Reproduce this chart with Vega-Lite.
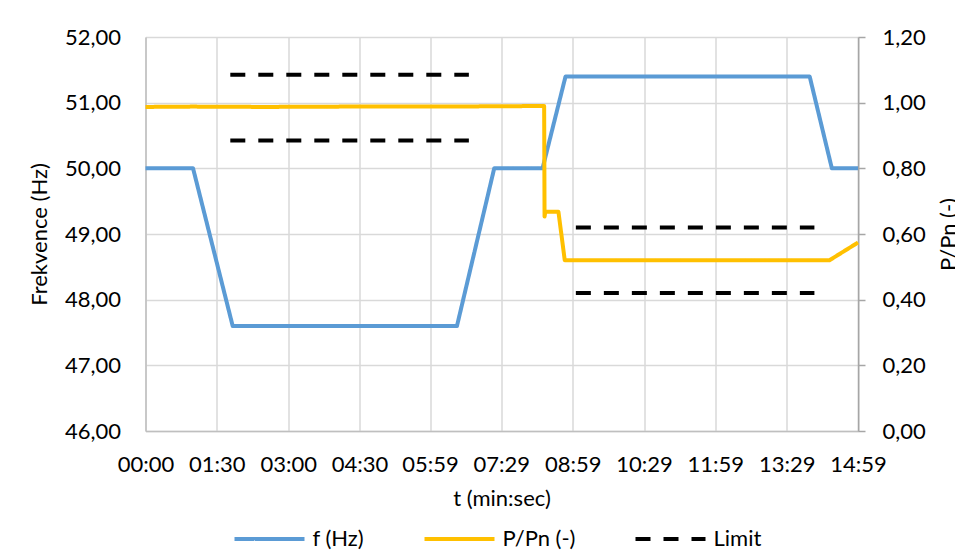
{
  "$schema": "https://vega.github.io/schema/vega-lite/v6.json",
  "width": 712.5,
  "height": 394,
  "autosize": {"type": "none"},
  "padding": {"left": 145.5, "top": 37, "right": 97, "bottom": 123},
  "background": "white",
  "config": {
    "view": {"stroke": null},
    "font": "Lato",
    "axis": {
      "labelFont": "Lato",
      "titleFont": "Lato",
      "labelFontSize": 22,
      "titleFontSize": 22,
      "labelColor": "#000000",
      "titleColor": "#000000",
      "titleFontWeight": "normal",
      "gridColor": "#d9d9d9",
      "gridWidth": 1.5
    },
    "legend": {
      "symbolType": "stroke",
      "symbolSize": 4900,
      "symbolStrokeWidth": 4,
      "labelFont": "Lato",
      "labelFontSize": 22,
      "labelColor": "#000000",
      "labelOffset": 6,
      "columnPadding": 52,
      "labelLimit": 300,
      "padding": 0
    }
  },
  "data": {
    "values": [
      {"t": 0, "v": 50, "series": "f (Hz)"},
      {"t": 60, "v": 50, "series": "f (Hz)"},
      {"t": 110, "v": 47.6, "series": "f (Hz)"},
      {"t": 393, "v": 47.6, "series": "f (Hz)"},
      {"t": 440, "v": 50, "series": "f (Hz)"},
      {"t": 501, "v": 50, "series": "f (Hz)"},
      {"t": 530, "v": 51.4, "series": "f (Hz)"},
      {"t": 838, "v": 51.4, "series": "f (Hz)"},
      {"t": 866, "v": 50, "series": "f (Hz)"},
      {"t": 899, "v": 50, "series": "f (Hz)"},
      {"t": 0, "v": 0.987, "series": "P/Pn (-)"},
      {"t": 60, "v": 0.988, "series": "P/Pn (-)"},
      {"t": 150, "v": 0.987, "series": "P/Pn (-)"},
      {"t": 250, "v": 0.988, "series": "P/Pn (-)"},
      {"t": 350, "v": 0.988, "series": "P/Pn (-)"},
      {"t": 450, "v": 0.989, "series": "P/Pn (-)"},
      {"t": 503, "v": 0.99, "series": "P/Pn (-)"},
      {"t": 503.5, "v": 0.653, "series": "P/Pn (-)"},
      {"t": 504.5, "v": 0.668, "series": "P/Pn (-)"},
      {"t": 521, "v": 0.668, "series": "P/Pn (-)"},
      {"t": 529, "v": 0.52, "series": "P/Pn (-)"},
      {"t": 700, "v": 0.52, "series": "P/Pn (-)"},
      {"t": 863, "v": 0.52, "series": "P/Pn (-)"},
      {"t": 899, "v": 0.574, "series": "P/Pn (-)"},
      {"t": 107, "v": 1.085, "series": "Limit", "seg": "A"},
      {"t": 408, "v": 1.085, "series": "Limit", "seg": "A"},
      {"t": 107, "v": 0.885, "series": "Limit", "seg": "B"},
      {"t": 408, "v": 0.885, "series": "Limit", "seg": "B"},
      {"t": 543, "v": 0.62, "series": "Limit", "seg": "C"},
      {"t": 844, "v": 0.62, "series": "Limit", "seg": "C"},
      {"t": 543, "v": 0.42, "series": "Limit", "seg": "D"},
      {"t": 844, "v": 0.42, "series": "Limit", "seg": "D"}
    ]
  },
  "encoding": {
    "x": {
      "field": "t",
      "type": "quantitative",
      "scale": {"domain": [0, 899], "nice": false, "zero": false},
      "axis": {
        "title": "t (min:sec)",
        "values": [0, 90, 180, 270, 359, 449, 539, 629, 719, 809, 899],
        "labelExpr": "utcFormat(datum.value * 1000, '%M:%S')",
        "ticks": false,
        "labelPadding": 23,
        "labelFlush": false,
        "labelOverlap": false,
        "domainColor": "#bfbfbf",
        "domainWidth": 1.5,
        "grid": true,
        "titleX": 356,
        "titleY": 67,
        "titleBaseline": "middle"
      }
    },
    "color": {
      "field": "series",
      "type": "nominal",
      "scale": {"domain": ["f (Hz)", "P/Pn (-)", "Limit"], "range": ["#5B9BD5", "#FFC000", "#000000"]},
      "legend": {"orient": "none", "legendX": 87, "legendY": 465, "direction": "horizontal", "title": null}
    },
    "strokeDash": {
      "field": "series",
      "type": "nominal",
      "scale": {"domain": ["f (Hz)", "P/Pn (-)", "Limit"], "range": [[1, 0], [1, 0], [15, 13]]},
      "legend": {"orient": "none", "legendX": 87, "legendY": 465, "direction": "horizontal", "title": null}
    }
  },
  "layer": [
    {
      "transform": [{"filter": "datum.series === 'f (Hz)'"}],
      "mark": {"type": "line", "strokeWidth": 4, "strokeJoin": "round"},
      "encoding": {
        "y": {
          "field": "v",
          "type": "quantitative",
          "scale": {"domain": [46, 52], "nice": false, "zero": false},
          "axis": {
            "title": "Frekvence (Hz)",
            "orient": "left",
            "values": [46, 47, 48, 49, 50, 51, 52],
            "labelExpr": "replace(format(datum.value, '.2f'), '.', ',')",
            "ticks": false,
            "labelPadding": 25,
            "domainColor": "#bfbfbf",
            "domainWidth": 1.5,
            "grid": true,
            "titleAngle": -90,
            "titleX": -106,
            "titleY": 197,
            "titleBaseline": "middle",
            "titleAlign": "center"
          }
        }
      }
    },
    {
      "encoding": {
        "y": {
          "field": "v",
          "type": "quantitative",
          "scale": {"domain": [0, 1.2], "nice": false, "zero": false},
          "axis": {
            "title": "P/Pn (-)",
            "orient": "right",
            "values": [0, 0.2, 0.4, 0.6, 0.8, 1.0, 1.2],
            "labelExpr": "replace(format(datum.value, '.2f'), '.', ',')",
            "ticks": true,
            "tickSize": 7,
            "tickColor": "#a6a6a6",
            "tickWidth": 1.5,
            "labelPadding": 17,
            "domainColor": "#a6a6a6",
            "domainWidth": 1.5,
            "grid": false,
            "titleAngle": -90,
            "titleX": 90,
            "titleY": 197,
            "titleBaseline": "middle",
            "titleAlign": "center"
          }
        }
      },
      "layer": [
        {
          "transform": [{"filter": "datum.series === 'P/Pn (-)'"}],
          "mark": {"type": "line", "strokeWidth": 4, "strokeJoin": "round"}
        },
        {
          "transform": [{"filter": "datum.series === 'Limit'"}],
          "mark": {"type": "line", "strokeWidth": 4},
          "encoding": {"detail": {"field": "seg", "type": "nominal"}}
        }
      ]
    }
  ],
  "resolve": {"scale": {"y": "independent"}}
}
